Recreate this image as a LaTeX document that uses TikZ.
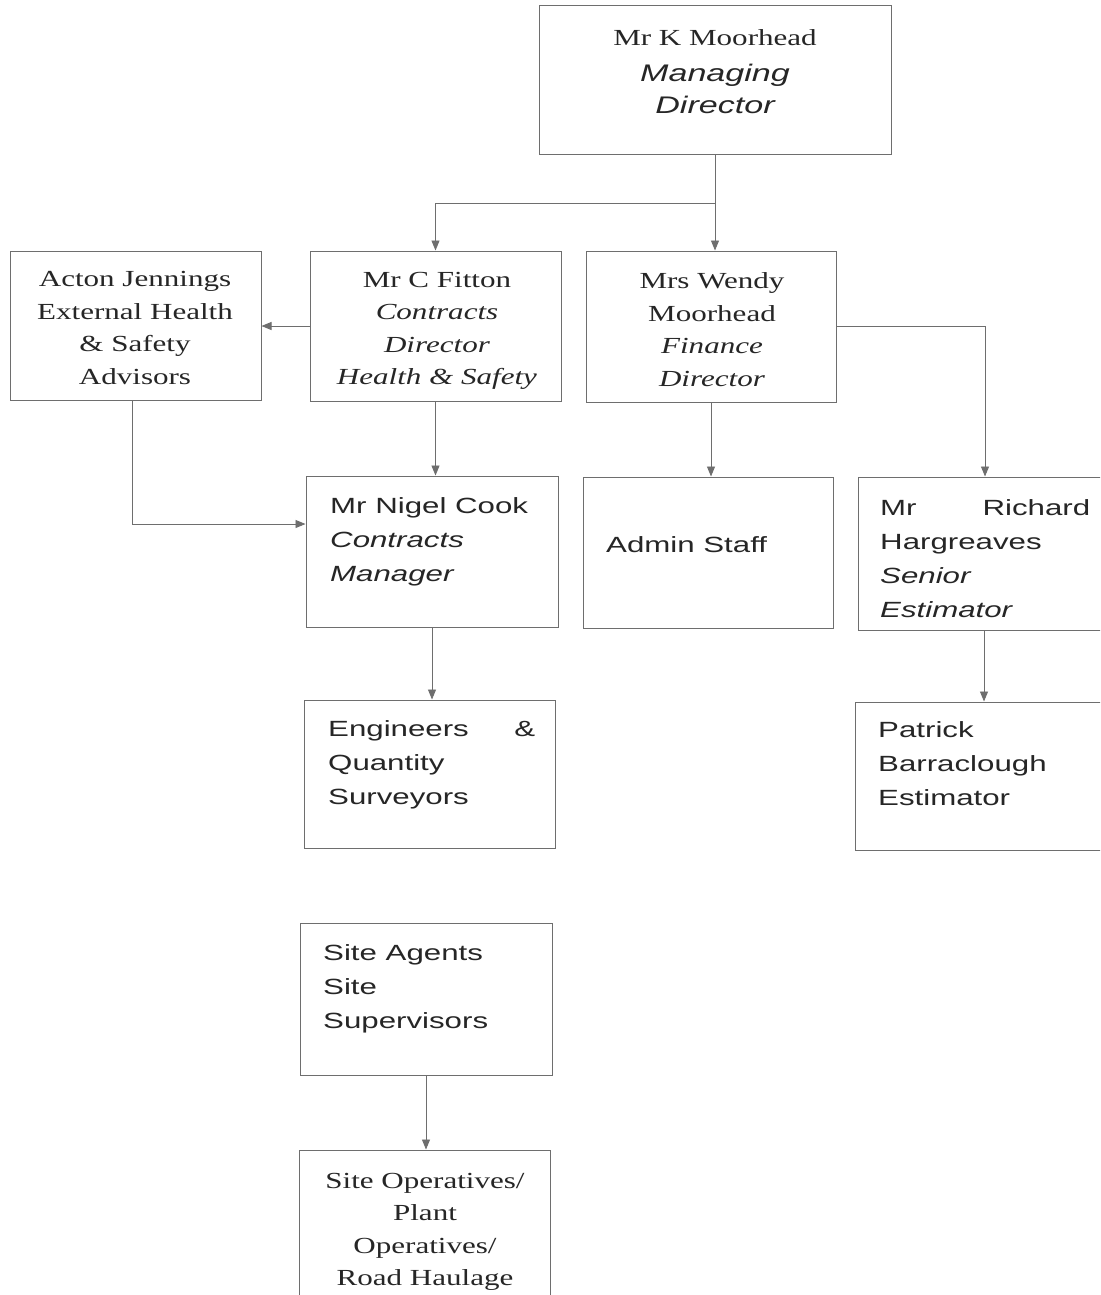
\documentclass[tikz,border=0pt]{standalone}
\usepackage{fontspec}
\usetikzlibrary{arrows.meta}
\newfontfamily\serifF[FakeStretch=1.35]{Liberation Serif}
\newfontfamily\sansF[FakeStretch=1.42]{Liberation Sans}
\newcommand\mysansit{\sansF\itshape\fontsize{24}{36}\selectfont}
\definecolor{linec}{HTML}{6E6E6E}
\definecolor{textc}{HTML}{262626}
\begin{document}
\begin{tikzpicture}[x=1pt,y=-1pt,
  box/.style={draw=linec, line width=1pt, rectangle, inner sep=0pt},
  serift/.style={font=\serifF\fontsize{23}{32.5}\selectfont, align=center, inner sep=0pt, text=textc},
  sanst/.style={font=\sansF\fontsize{22}{34}\selectfont, align=left, inner sep=0pt, text=textc, anchor=west},
  arr/.style={draw=linec, line width=0.9pt, -{Triangle[length=10pt,width=8pt]}}]
\useasboundingbox (0,0) rectangle (1100,1295);
\fill[white] (0,0) rectangle (1100,1295);
\clip (0,0) rectangle (1100,1295);

% boxes
\node[box, minimum width=352, minimum height=148] (md) at (715,80) {};
\node[box, minimum width=251, minimum height=149] (acton) at (135.5,325.5) {};
\node[box, minimum width=251, minimum height=150] (fitton) at (435.5,326) {};
\node[box, minimum width=250, minimum height=151] (wendy) at (711,326.5) {};
\node[box, minimum width=252, minimum height=151] (cook) at (432,551.5) {};
\node[box, minimum width=250, minimum height=151] (admin) at (708,552.5) {};
\node[box, minimum width=248, minimum height=153] (harg) at (982,553.5) {};
\node[box, minimum width=251, minimum height=148] (eng) at (429.5,774) {};
\node[box, minimum width=251, minimum height=148] (patrick) at (980.5,776) {};
\node[box, minimum width=252, minimum height=152] (agents) at (426,999) {};
\node[box, minimum width=251, minimum height=152] (ops) at (424.5,1226) {};

% texts
\node[serift] (mdT) at (715,72) {Mr K Moorhead\\[3pt]{\mysansit Managing}\\{\mysansit Director}};
\node[serift] (actonT) at (135,328) {Acton Jennings\\External Health\\\& Safety\\Advisors};
\node[serift] (fittonT) at (437,331) {Mr C Fitton\\\textit{Contracts}\\\textit{Director}\\\textit{Health \& Safety}};
\node[serift] (wendyT) at (712,329.5) {Mrs Wendy\\Moorhead\\\textit{Finance}\\\textit{Director}};
\node[sanst] (cookT) at (330,542) {Mr Nigel Cook\\\textit{Contracts}\\\textit{Manager}};
\node[sanst] (adminT) at (606,545) {Admin Staff};
\node[sanst] (hargT) at (880,559) {\hbox to 210pt{Mr\hfill Richard}\\Hargreaves\\\textit{Senior}\\\textit{Estimator}};
\node[sanst] (engT) at (328,765) {\hbox to 207pt{Engineers\hfill\&}\\Quantity\\Surveyors};
\node[sanst] (patrickT) at (878,764) {Patrick\\Barraclough\\Estimator};
\node[sanst] (agentsT) at (323,988.5) {Site Agents\\Site\\Supervisors};
\node[serift] (opsT) at (425,1232) {Site Operatives/\\Plant\\Operatives/\\Road Haulage};

% connectors
\coordinate (j1) at (715,203);
\draw[arr] (md.south) -- (md.south |- wendy.north);
\draw[arr] (j1) -| (fitton.north);
\draw[arr] (fitton.west) -- (fitton.west -| acton.east);
\draw[arr] ([xshift=-3.5pt]acton.south) |- ([yshift=27.5pt]cook.west);
\draw[arr] (fitton.south) -- (fitton.south |- cook.north);
\draw[arr] (wendy.south) -- (wendy.south |- admin.north);
\draw[arr] (wendy.east) -| ([xshift=3pt]harg.north);
\draw[arr] (cook.south) -- (cook.south |- eng.north);
\draw[arr] ([xshift=2pt]harg.south) -- ([xshift=2pt]harg.south |- patrick.north);
\draw[arr] (agents.south) -- (agents.south |- ops.north);
\end{tikzpicture}
\end{document}
